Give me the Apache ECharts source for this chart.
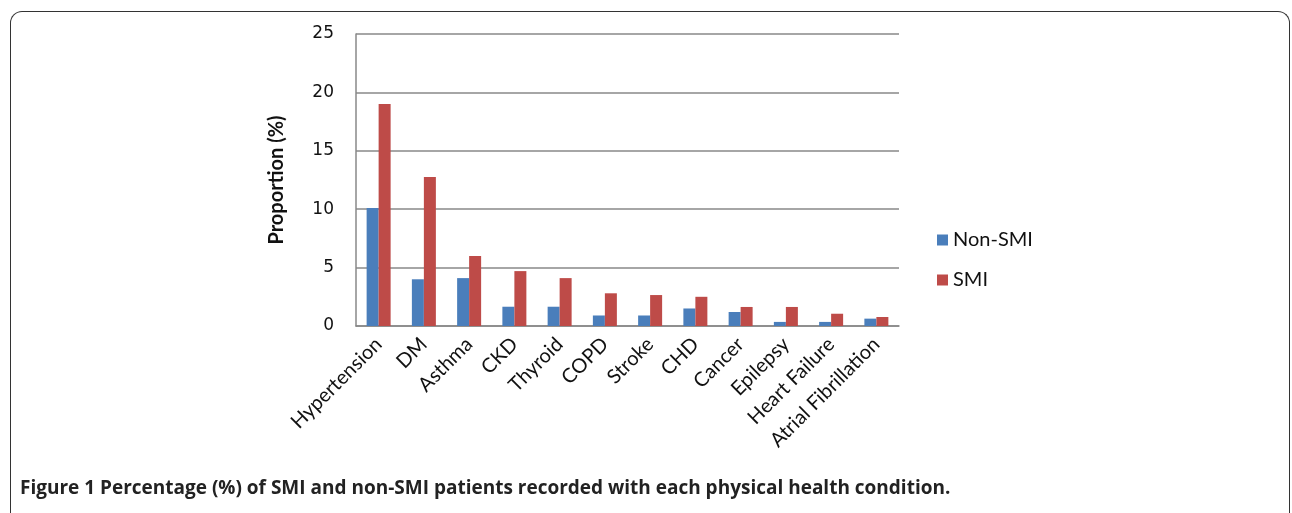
<!DOCTYPE html>
<html>
<head>
<meta charset="utf-8">
<script src="https://cdn.jsdelivr.net/npm/echarts@6/dist/echarts.min.js"></script>
<style>
  html, body { margin: 0; padding: 0; background: #fff; }
  #frame { position: absolute; left: 10px; top: 11px; width: 1278px; height: 520px;
           border: 1.5px solid #333; border-bottom: none; border-radius: 12px 12px 0 0; }
  #chart { position: absolute; left: 0; top: 0; width: 1292px; height: 513px; }
  #caption { position: absolute; left: 20px; top: 474px; font-family: "Open Sans", sans-serif;
             font-size: 19px; font-weight: 700; color: #222; white-space: nowrap; }
</style>
</head>
<body>
<div id="frame"></div>
<div id="chart"></div>
<div id="caption">Figure 1 Percentage (%) of SMI and non-SMI patients recorded with each physical health condition.</div>
<script>
const categories = ['Hypertension', 'DM', 'Asthma', 'CKD', 'Thyroid', 'COPD', 'Stroke', 'CHD', 'Cancer', 'Epilepsy', 'Heart Failure', 'Atrial Fibrillation'];
const nonSMI = [10.1, 4.0, 4.1, 1.65, 1.65, 0.9, 0.9, 1.5, 1.2, 0.35, 0.35, 0.63];
const SMI = [19.0, 12.75, 6.0, 4.7, 4.1, 2.8, 2.65, 2.5, 1.63, 1.63, 1.05, 0.77];
const yTicks = [0, 5, 10, 15, 20, 25];

const chart = echarts.init(document.getElementById('chart'), null, { renderer: 'canvas' });
chart.setOption({
  animation: false,
  grid: { left: 356, right: 393, top: 34, bottom: 187, containLabel: false },
  legend: {
    orient: 'vertical', left: 932, top: 225, itemGap: 20,
    itemWidth: 11, itemHeight: 11, icon: 'rect',
    textStyle: { fontFamily: 'Lato', fontSize: 20, color: '#111' },
    data: ['Non-SMI', 'SMI']
  },
  xAxis: {
    type: 'category', data: categories,
    axisLine: { lineStyle: { color: '#888', width: 1.5 } },
    axisTick: { show: false },
    axisLabel: { rotate: 45, interval: 0, margin: 15, fontFamily: 'Lato', fontSize: 20, color: '#111' }
  },
  yAxis: {
    type: 'value', min: yTicks[0], max: yTicks[yTicks.length - 1], interval: 5,
    name: 'Proportion (%)', nameLocation: 'middle', nameGap: 69,
    nameTextStyle: { fontFamily: 'Lato', fontSize: 20, fontWeight: 'bold', color: '#111' },
    axisLine: { show: true, lineStyle: { color: '#888', width: 1.5 } },
    axisTick: { show: false },
    axisLabel: { margin: 22, fontFamily: 'DejaVu Sans', fontSize: 17, color: '#111' },
    splitLine: { lineStyle: { color: '#888', width: 1.5 } }
  },
  series: [
    { name: 'Non-SMI', type: 'bar', data: nonSMI, barWidth: 12, barGap: '0%',
      itemStyle: { color: '#4a7ebb' } },
    { name: 'SMI', type: 'bar', data: SMI, barWidth: 12,
      itemStyle: { color: '#be4b48' } }
  ]
});
</script>
</body>
</html>
